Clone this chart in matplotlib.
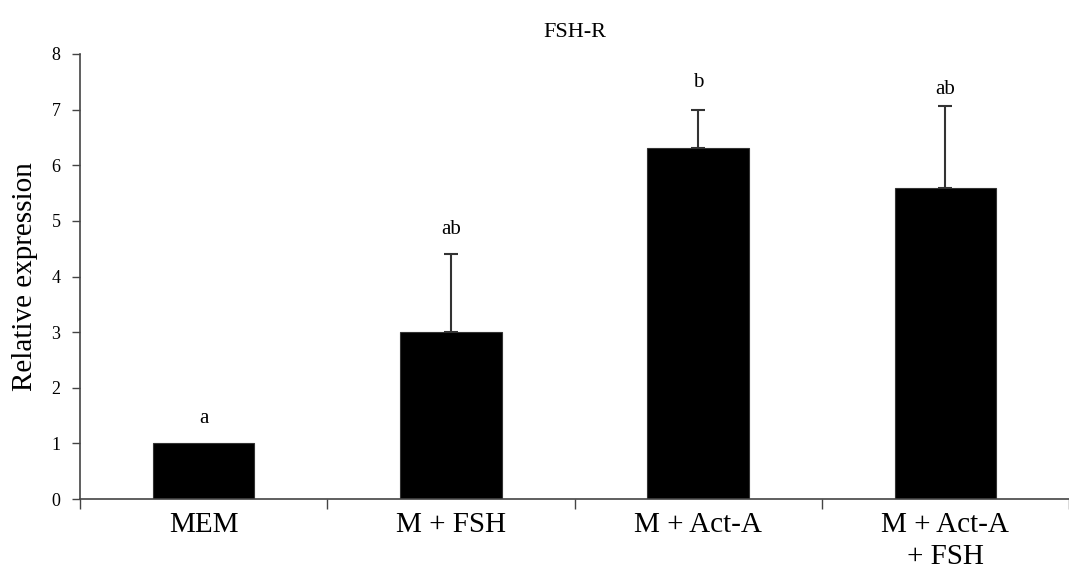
import numpy as np
import matplotlib.pyplot as plt

plt.rcParams['font.family'] = ['Liberation Serif', 'DejaVu Serif']

groups = ["MEM", "M + FSH", "M + Act-A", "M + Act-A\n+ FSH"]
means = [1.0, 3.0, 6.31, 5.59]
errors = [0.0, 1.40, 0.68, 1.47]
letters = ["a", "ab", "b", "ab"]
letter_y = [1.28, 4.68, 7.32, 7.2]

fig = plt.figure(figsize=(10.69, 5.8), dpi=100)
ax = fig.add_axes([80 / 1069, 81 / 580, 1 - 80 / 1069, 445 / 580])

x = np.arange(len(groups))
ax.bar(x, means, width=0.41, color="black", edgecolor="#333333", linewidth=0.8, zorder=2)

# only upper error bars, and none where the error is zero
has_err = [i for i, e in enumerate(errors) if e > 0]
ax.errorbar(x[has_err], [means[i] for i in has_err],
            yerr=[np.zeros(len(has_err)), [errors[i] for i in has_err]], fmt="none",
            ecolor="#333333", elinewidth=1.5, capsize=5, capthick=1.5, zorder=1)

for xi, lab, ly in zip(x, letters, letter_y):
    ax.text(xi, ly, lab, ha="center", va="bottom", fontsize=15)

ax.set_xlim(-0.5, len(groups) - 0.5)
ax.set_ylim(0, 8)
ax.set_yticks(range(0, 9))
ax.tick_params(axis="y", labelsize=13, length=6, width=1, color="#444444", pad=8)

# category labels centred, ticks at the boundaries
ax.set_xticks(np.arange(len(groups) + 1) - 0.5)
ax.set_xticklabels([])
ax.set_xticks(x, minor=True)
ax.set_xticklabels(groups, minor=True, fontsize=21, linespacing=1.35)
ax.tick_params(axis="x", which="major", length=7, width=1, color="#444444")
ax.tick_params(axis="x", which="minor", length=0, pad=9)

for side in ["top", "right"]:
    ax.spines[side].set_visible(False)
for side in ["left", "bottom"]:
    ax.spines[side].set_color("#444444")
    ax.spines[side].set_linewidth(1.2)

ax.set_ylabel("Relative expression", fontsize=21, labelpad=10)
ax.set_title("FSH-R", fontsize=16, pad=12)

fig.savefig("out.png", dpi=100)
